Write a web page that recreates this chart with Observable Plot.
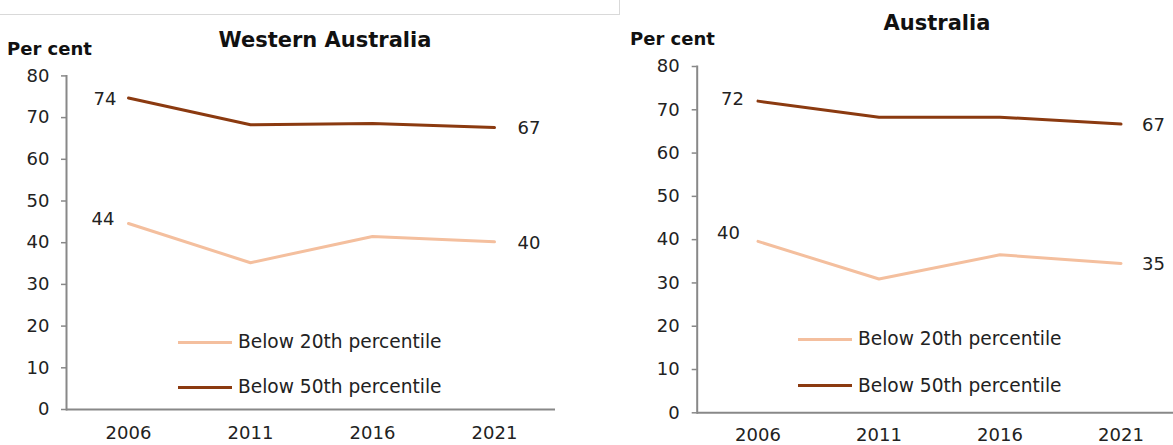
<!DOCTYPE html>
<html>
<head>
<meta charset="utf-8">
<script src="https://cdn.jsdelivr.net/npm/d3@7"></script>
<script src="https://cdn.jsdelivr.net/npm/@observablehq/plot@0.6"></script>
<style>
  html, body { margin: 0; padding: 0; background: #fff; overflow: hidden; }
  body { width: 1173px; height: 445px; position: relative; font-family: "DejaVu Sans", sans-serif; color: #222; }
  .abs { position: absolute; }
  .title { font-weight: bold; font-size: 21px; line-height: 21px; white-space: nowrap; transform: translateX(-50%); color: #111; }
  .unit { font-weight: bold; font-size: 18px; line-height: 18px; white-space: nowrap; color: #111; }
  .legtext { font-size: 18.6px; line-height: 18px; white-space: nowrap; color: #222; }
  .legline { height: 3px; }
  .plotbox svg { max-width: none !important; overflow: visible; }
  .topbox { left: -1px; top: 0; width: 620px; height: 14px; border-bottom: 1px solid #d9d9d9; border-right: 1px solid #d9d9d9; }
</style>
</head>
<body>
<div class="abs topbox"></div>
<div id="app"></div>
<script>
// ---- data ----
const years = ["2006", "2011", "2016", "2021"];
const seriesNames = ["Below 20th percentile", "Below 50th percentile"];
const seriesColors = ["#F4BF9E", "#8B3A10"];
const yTicks = [0, 10, 20, 30, 40, 50, 60, 70, 80];

const waTitle = "Western Australia";
const waBelow20 = [44.6, 35.2, 41.5, 40.2];
const waBelow50 = [74.7, 68.3, 68.6, 67.6];
const waLabels20 = ["44", "40"];
const waLabels50 = ["74", "67"];

const ausTitle = "Australia";
const ausBelow20 = [39.6, 30.9, 36.5, 34.5];
const ausBelow50 = [72.0, 68.3, 68.3, 66.7];
const ausLabels20 = ["40", "35"];
const ausLabels50 = ["72", "67"];

const unitLabel = "Per cent";

// ---- drawing ----
function rows(values) {
  return years.map((year, i) => ({year, value: values[i]}));
}

function panel(opts) {
  const s20 = rows(opts.v20), s50 = rows(opts.v50);
  const ends = (s, labels) => [
    {...s[0], label: labels[0]},
    {...s[s.length - 1], label: labels[1]}
  ];
  const e20 = ends(s20, opts.l20), e50 = ends(s50, opts.l50);
  return Plot.plot({
    width: opts.width,
    height: opts.height,
    marginLeft: opts.ml,
    marginRight: opts.mr,
    marginTop: opts.mt,
    marginBottom: opts.mb,
    style: {fontFamily: "DejaVu Sans, sans-serif", fontSize: "18px", color: "#222", background: "transparent"},
    x: {type: "band", domain: years, padding: 0},
    y: {domain: [0, 80]},
    marks: [
      Plot.axisY({ticks: yTicks, tickSize: 5, tickPadding: opts.tp, stroke: "#888", strokeWidth: 1.5, fill: "#222", fontSize: 18, label: null}),
      Plot.axisX({tickSize: 0, tickPadding: opts.xp, fill: "#222", fontSize: 18, label: null}),
      Plot.frame({anchor: "left", stroke: "#888", strokeWidth: 2}),
      Plot.ruleY([0], {stroke: "#888", strokeWidth: 2}),
      Plot.line(s20, {x: "year", y: "value", stroke: seriesColors[0], strokeWidth: 3, strokeLinejoin: "round", strokeLinecap: "round"}),
      Plot.line(s50, {x: "year", y: "value", stroke: seriesColors[1], strokeWidth: 3, strokeLinejoin: "round", strokeLinecap: "round"}),
      Plot.text([e50[0]], {x: "year", y: "value", text: "label", textAnchor: "end", dx: opts.dxL50, dy: opts.dyL50, fill: "#222", fontSize: 18}),
      Plot.text([e20[0]], {x: "year", y: "value", text: "label", textAnchor: "end", dx: opts.dxL20, dy: opts.dyL20, fill: "#222", fontSize: 18}),
      Plot.text([e50[1]], {x: "year", y: "value", text: "label", textAnchor: "start", dx: opts.dxR, dy: 1, fill: "#222", fontSize: 18}),
      Plot.text([e20[1]], {x: "year", y: "value", text: "label", textAnchor: "start", dx: opts.dxR, dy: 1, fill: "#222", fontSize: 18})
    ]
  });
}

const app = document.getElementById("app");
function place(el, left, top, cls) {
  const d = document.createElement("div");
  d.className = "abs " + (cls || "");
  d.style.left = left + "px";
  d.style.top = top + "px";
  if (typeof el === "string") d.textContent = el; else d.appendChild(el);
  app.appendChild(d);
  return d;
}

// Left panel
const left = panel({v20: waBelow20, v50: waBelow50, l20: waLabels20, l50: waLabels50,
  width: 570, height: 385, ml: 66, mr: 15, mt: 15.4, mb: 36, tp: 12, xp: 17,
  dxL50: -12, dyL50: 1, dxL20: -14, dyL20: -4, dxR: 23});
const lb = place(left, 0, 60, "plotbox"); lb.style.width = "570px";

// Right panel
const right = panel({v20: ausBelow20, v50: ausBelow50, l20: ausLabels20, l50: ausLabels50,
  width: 566, height: 395, ml: 76.7, mr: 5, mt: 16, mb: 32.7, tp: 12.5, xp: 15,
  dxL50: -14, dyL50: -2, dxL20: -18, dyL20: -8, dxR: 21});
const rb = place(right, 620, 50, "plotbox"); rb.style.width = "566px";

// Titles and unit labels
place(waTitle, 325, 30, "title");
place(ausTitle, 937, 13, "title");
place(unitLabel, 7, 40, "unit");
place(unitLabel, 630, 30, "unit");

// Legends
function legend(x0, yA, yB) {
  [yA, yB].forEach((y, i) => {
    const ln = place("", x0, y - 1.5, "legline");
    ln.style.width = "54px";
    ln.style.background = seriesColors[i];
    place(seriesNames[i], x0 + 60, y - 9, "legtext");
  });
}
legend(178, 342, 387);
legend(798, 339.3, 385.7);
</script>
</body>
</html>
